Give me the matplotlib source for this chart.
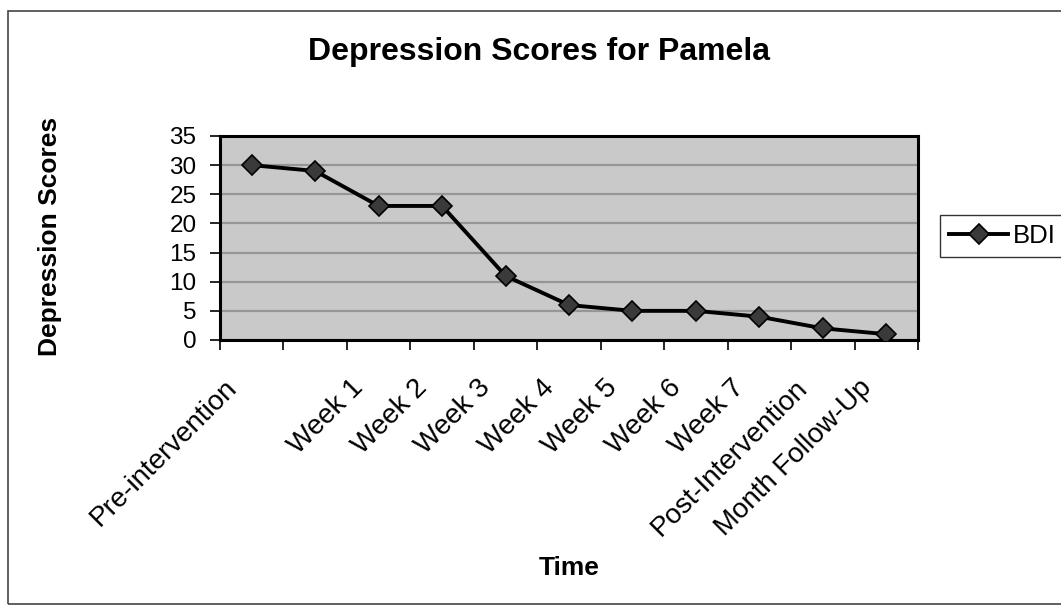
import numpy as np
import matplotlib
matplotlib.use("Agg")
from matplotlib import pyplot as plt
from matplotlib.patches import Rectangle
from matplotlib.transforms import ScaledTranslation

# data
categories = ["Pre-intervention", "", "Week 1", "Week 2", "Week 3", "Week 4",
              "Week 5", "Week 6", "Week 7", "Post-Intervention", "Month Follow-Up"]
bdi = [30, 29, 23, 23, 11, 6, 5, 5, 4, 2, 1]
y_ticks = [0, 5, 10, 15, 20, 25, 30, 35]

plt.rcParams['font.family'] = ['Liberation Sans', 'DejaVu Sans']

W, H = 1061, 609
fig = plt.figure(figsize=(W / 100, H / 100), dpi=100)
fig.patch.set_facecolor('white')

# plot area in pixel coordinates
left, right, top, bottom = 220, 918, 136, 340
ax = fig.add_axes([left / W, 1 - bottom / H, (right - left) / W, (bottom - top) / H])
ax.set_facecolor('#c9c9c9')

x = np.arange(len(categories))
line, = ax.plot(x, bdi, color='black', lw=2.8, marker='D', markersize=10,
                markerfacecolor='#3a3a3a', markeredgecolor='black',
                markeredgewidth=1.2, label='BDI', zorder=3)

ax.set_xlim(-0.5, len(categories) - 0.5)
ax.set_ylim(0, 35)
ax.set_yticks(y_ticks)
ax.yaxis.grid(True, color='#969696', lw=1.6)
ax.set_axisbelow(True)
for s in ax.spines.values():
    s.set_linewidth(2.2)
    s.set_color('black')

ax.tick_params(axis='y', labelsize=17.5, length=7, width=1.2, pad=10)

# labels at category centres, tick marks at category boundaries
ax.set_xticks(x)
ax.set_xticklabels(categories, rotation=45, ha='right', va='top',
                   rotation_mode='anchor', fontsize=20)
ax.tick_params(axis='x', which='major', length=0, pad=25)
ax.set_xticks(np.arange(len(categories) + 1) - 0.5, minor=True)
ax.tick_params(axis='x', which='minor', length=7, width=1.2)
shift = ScaledTranslation(-28 / 100, 0, fig.dpi_scale_trans)
for lab in ax.get_xticklabels():
    lab.set_transform(lab.get_transform() + shift)

fig.text(539 / W, 1 - 52 / H, 'Depression Scores for Pamela', ha='center',
         va='center', fontsize=23, fontweight='bold')
fig.text(50 / W, 1 - 236 / H, 'Depression Scores', rotation=90, ha='center',
         va='center', fontsize=19, fontweight='bold')
fig.text(569 / W, 1 - 568 / H, 'Time', ha='center', va='center',
         fontsize=19, fontweight='bold')

leg = fig.legend(handles=[line], loc='upper left',
                 bbox_to_anchor=(940 / W, 1 - 215 / H), fontsize=18.5,
                 frameon=True, fancybox=False, borderpad=0.35,
                 handlelength=2.3, handletextpad=0.2, borderaxespad=0)
leg.get_frame().set_edgecolor('black')
leg.get_frame().set_linewidth(1.0)

# outer chart border
fig.patches.append(Rectangle((8 / W, 1 - 604 / H), 1.1, (604 - 11) / H,
                             transform=fig.transFigure, fill=False,
                             edgecolor='#444444', lw=1.2))

fig.savefig('out.png', dpi=100, facecolor='white')
